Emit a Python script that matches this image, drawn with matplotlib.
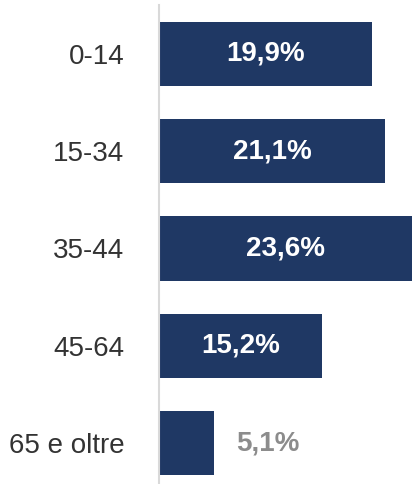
import matplotlib.pyplot as plt

# Age bands and their share
categories = ["0-14", "15-34", "35-44", "45-64", "65 e oltre"]
values = [19.9, 21.1, 23.6, 15.2, 5.1]
labels = ["19,9%", "21,1%", "23,6%", "15,2%", "5,1%"]

plt.rcParams["font.family"] = ["Liberation Sans", "DejaVu Sans"]

fig = plt.figure(figsize=(4.12, 4.84), dpi=100)
ax = fig.add_axes([159 / 412, 0, 253 / 412, 479 / 484])

navy = "#1f3864"
ax.barh(range(len(values)), values, height=0.66, color=navy, zorder=2)

for i, (v, lab) in enumerate(zip(values, labels)):
    if v > 10:
        ax.text(v / 2, i, lab, ha="center", va="center", color="white",
                fontsize=20, fontweight="bold")
    else:
        ax.text(v + 2.1, i, lab, ha="left", va="center", color="#8c8c8c",
                fontsize=20, fontweight="bold")

ax.set_xlim(0, 23.6)
ax.set_ylim(4.42, -0.5)
ax.set_yticks(range(len(categories)))
ax.set_yticklabels(categories, fontsize=20, color="#333333")
ax.tick_params(axis="y", length=0, pad=25)
ax.set_xticks([])

for s in ["top", "right", "bottom"]:
    ax.spines[s].set_visible(False)
ax.spines["left"].set_color("#d9d9d9")
ax.spines["left"].set_linewidth(1.5)

plt.savefig("out.png", dpi=100)
plt.close()
